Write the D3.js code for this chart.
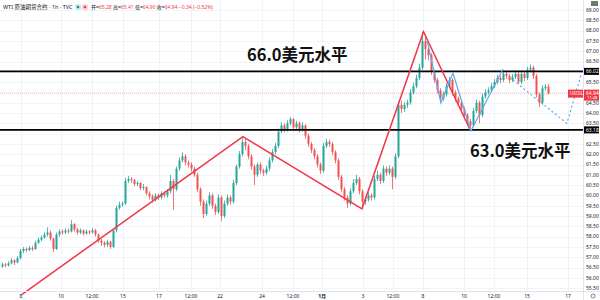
<!DOCTYPE html>
<html>
<head>
<meta charset="utf-8">
<script src="https://cdn.jsdelivr.net/npm/d3@7"></script>
<style>
  html, body { margin: 0; padding: 0; background: #fff; }
  svg { display: block; font-family: "Noto Sans", "Noto Sans CJK SC", sans-serif; }
</style>
</head>
<body>
<svg id="chart" width="600" height="300"></svg>
<script>
// hourly WTI bars (open = previous close)
const firstOpen = 56.55;
const closes = [
  56.65, 56.6, 56.7, 56.85, 56.75, 56.95, 57.3, 57.4, 57.35, 57.45,
  57.4, 57.7, 57.85, 57.95, 58.1, 58.2, 57.9, 57.4, 58.1, 58.25,
  58.2, 58.3, 58.25, 58.6, 58.35, 58.2, 58.3, 58.15, 58.25, 58.2,
  58.3, 58.1, 57.8, 57.7, 57.6, 57.75, 57.5, 58.3, 59.4, 59.55,
  59.6, 60.7, 60.8, 60.75, 60.55, 60.6, 60.35, 60.4, 60.1, 59.95,
  59.8, 60.0, 59.9, 60.1, 60.0, 60.2, 60.7, 60.3, 61.3, 61.7,
  61.9, 61.6, 61.5, 61.3, 61.0, 60.3, 59.7, 59.1, 59.6, 60.0,
  59.5, 59.2, 59.9, 59.0, 59.6, 59.9, 59.7, 60.6, 61.4, 62.0,
  62.6, 62.4, 61.9, 61.4, 61.0, 61.5, 61.2, 61.1, 61.3, 61.7,
  62.1, 62.4, 63.1, 63.4, 63.2, 63.5, 63.7, 63.3, 63.5, 63.2,
  63.4, 62.9, 62.5, 62.2, 61.9, 61.5, 61.2, 62.4, 62.6, 62.5,
  62.1, 61.7, 60.9, 60.3, 59.9, 59.6, 60.2, 60.6, 60.8, 60.2,
  59.7, 59.8, 60.0, 59.9, 60.8, 61.0, 60.7, 61.3, 61.1, 61.3,
  60.9, 61.9, 64.4, 64.2, 64.4, 64.5, 65.0, 65.3, 65.7, 66.2,
  67.5, 67.1, 66.8, 66.0, 65.6, 65.1, 64.7, 64.9, 65.3, 65.6,
  65.0, 64.7, 64.5, 64.2, 63.9, 63.6, 63.4, 64.1, 64.5, 63.9,
  64.8, 65.0, 65.1, 65.3, 65.5, 65.7, 65.6, 65.9, 65.8, 65.6,
  65.75, 65.9, 65.5, 65.9, 65.7, 66.1, 66.2, 65.8, 64.9, 64.5,
  65.2, 65.28, 64.94
];
const highs = [
  56.75, 56.72, 56.8, 56.95, 56.9, 57.05, 57.4, 57.5, 57.48, 57.55,
  57.55, 57.8, 57.95, 58.05, 58.2, 58.45, 58.3, 57.95, 58.2, 58.35,
  58.35, 58.4, 58.38, 58.8, 58.65, 58.42, 58.4, 58.35, 58.35, 58.32,
  58.42, 58.38, 58.15, 57.88, 57.78, 57.85, 57.8, 58.4, 59.5, 59.7,
  59.7, 60.85, 60.95, 60.9, 60.8, 60.7, 60.65, 60.55, 60.45, 60.2,
  60.05, 60.1, 60.1, 60.2, 60.2, 60.3, 61.0, 60.8, 61.4, 61.85,
  62.1, 62.0, 61.7, 61.6, 61.4, 61.1, 60.4, 59.8, 59.75, 60.15,
  60.1, 59.6, 60.05, 60.0, 59.75, 60.05, 60.0, 60.75, 61.5, 62.15,
  62.85, 62.75, 62.5, 62.0, 61.5, 61.6, 61.6, 61.3, 61.45, 61.85,
  62.25, 62.55, 63.25, 63.55, 63.5, 63.65, 63.8, 63.75, 63.62, 63.6,
  63.55, 63.45, 63.0, 62.6, 62.3, 62.0, 61.6, 62.55, 62.75, 62.7,
  62.6, 62.2, 61.8, 61.0, 60.4, 60.0, 60.35, 60.8, 61.0, 60.9,
  60.3, 59.95, 60.15, 60.1, 60.95, 61.2, 61.1, 61.45, 61.4, 61.45,
  61.4, 62.05, 64.55, 64.6, 64.55, 64.65, 65.15, 65.45, 65.85, 66.4,
  67.93, 67.7, 67.25, 66.9, 66.1, 65.7, 65.2, 65.05, 65.45, 65.75,
  65.7, 65.1, 64.8, 64.6, 64.3, 64.0, 63.7, 64.25, 64.65, 64.6,
  64.95, 65.15, 65.25, 65.45, 65.65, 65.85, 65.8, 66.05, 66.0, 65.9,
  65.9, 66.05, 66.0, 66.05, 66.0, 66.25, 66.35, 66.3, 65.9, 65.0,
  65.35, 65.4, 65.41
];
const lows = [
  56.48, 56.52, 56.55, 56.65, 56.62, 56.7, 56.9, 57.2, 57.25, 57.3,
  57.3, 57.35, 57.65, 57.78, 57.9, 58.0, 57.8, 57.25, 57.35, 58.0,
  58.1, 58.12, 58.15, 58.2, 58.25, 58.1, 58.12, 58.05, 58.08, 58.1,
  58.15, 58.0, 57.7, 57.55, 57.48, 57.5, 57.4, 57.45, 58.2, 59.3,
  59.45, 59.55, 60.6, 60.6, 60.45, 60.45, 60.25, 60.25, 60.0, 59.8,
  59.65, 59.7, 59.78, 59.8, 59.9, 59.9, 60.1, 59.3, 60.2, 61.2,
  61.6, 61.45, 61.35, 61.15, 60.9, 60.15, 59.5, 58.9, 59.0, 59.5,
  59.35, 59.05, 59.1, 58.75, 58.9, 59.5, 59.55, 59.6, 60.5, 61.3,
  61.9, 62.2, 61.75, 61.25, 60.5, 60.9, 61.05, 60.95, 61.0, 61.2,
  61.6, 62.0, 62.3, 63.0, 63.05, 63.1, 63.4, 63.15, 63.2, 63.05,
  63.1, 62.75, 62.35, 62.05, 61.75, 61.35, 61.05, 61.1, 62.3, 62.35,
  61.95, 61.55, 60.75, 60.15, 59.75, 59.4, 59.5, 60.1, 60.5, 60.05,
  59.45, 59.55, 59.7, 59.75, 59.8, 60.7, 60.55, 60.6, 60.95, 61.0,
  60.3, 60.8, 61.8, 64.0, 64.05, 64.25, 64.4, 64.9, 65.2, 65.6,
  66.1, 66.6, 66.55, 65.85, 65.45, 64.95, 64.55, 64.6, 64.8, 65.2,
  64.85, 64.55, 64.35, 64.05, 63.75, 63.45, 63.27, 63.3, 64.0, 63.5,
  63.8, 64.7, 64.9, 65.0, 65.2, 65.4, 65.45, 65.5, 65.65, 65.45,
  65.5, 65.65, 65.4, 65.4, 65.55, 65.6, 66.0, 65.65, 64.75, 64.3,
  64.4, 65.1, 64.90
];

// axis labels
const priceTicks = [69, 68.5, 68, 67.5, 67, 66.5, 65.5, 64.5, 64, 63.5, 62.5, 62, 61.5,
  61, 60.5, 60, 59.5, 59, 58.5, 58, 57.5, 57, 56.5, 56, 55.5];
const gridPrices = [69, 68.5, 68, 67.5, 67, 66.5, 66, 65.5, 65, 64.5, 64, 63.5, 63, 62.5,
  62, 61.5, 61, 60.5, 60, 59.5, 59, 58.5, 58, 57.5, 57, 56.5, 56, 55.5];
const timeLabels = ['8', '10', '12:00', '15', '17', '12:00', '22', '24', '12:00', '1月',
  '3', '12:00', '8', '10', '12:00', '15', '17'];
const timeIdx = [6.3, 19.7, 30, 40.3, 52.3, 63, 72.7, 86.7, 97, 106.7, 120.3, 130.3,
  140.3, 154, 164, 175, 188.7];

// drawn levels and swing lines: [bar index, price]
const levelHigh = 66.02;
const levelLow = 63.18;
const lastPrice = 64.94;
const redZigzag = [[6.7, 55.2], [80.3, 62.85], [120, 59.35], [140.5, 67.95], [156, 63.2]];
const blueZigzag = [[141.7, 67.54], [146.3, 64.49], [150.3, 65.94], [156.3, 63.13], [167, 66.14]];
const blueForecast = [[170.3, 65.6], [188.3, 63.5], [193.3, 66.0]];

const width = 600;
const height = 300;
const plotRight = 583;
const plotBottom = 291;

const bars = closes.map((c, i) => ({
  i: i,
  o: i === 0 ? firstOpen : closes[i - 1],
  h: highs[i],
  l: lows[i],
  c: c
}));

const svg = d3.select('#chart');

const x = d3.scaleLinear().domain([0, 182]).range([2, 548]);
const y = d3.scaleLinear().domain([55.5, 69]).range([288.1, 10]);

// grid
svg.append('g')
  .selectAll('line')
  .data(gridPrices)
  .enter()
  .append('line')
  .attr('x1', 0).attr('x2', plotRight)
  .attr('y1', d => Math.round(y(d)) + 0.5)
  .attr('y2', d => Math.round(y(d)) + 0.5)
  .attr('stroke', '#f0f3fa');

svg.append('g')
  .selectAll('line')
  .data(timeIdx)
  .enter()
  .append('line')
  .attr('x1', d => Math.round(x(d)) + 0.5)
  .attr('x2', d => Math.round(x(d)) + 0.5)
  .attr('y1', 0).attr('y2', plotBottom)
  .attr('stroke', '#f0f3fa');

// last price line
svg.append('line')
  .attr('x1', 0).attr('x2', plotRight)
  .attr('y1', y(lastPrice)).attr('y2', y(lastPrice))
  .attr('stroke', '#f7a9a8')
  .attr('stroke-width', 0.8)
  .attr('stroke-dasharray', '1,1');

// candles
const candle = svg.append('g').selectAll('g')
  .data(bars)
  .enter()
  .append('g')
  .attr('fill', d => d.c >= d.o ? '#26a69a' : '#ef5350')
  .attr('stroke', d => d.c >= d.o ? '#26a69a' : '#ef5350');

candle.append('line')
  .attr('x1', d => Math.round(x(d.i)) + 0.5)
  .attr('x2', d => Math.round(x(d.i)) + 0.5)
  .attr('y1', d => y(d.h))
  .attr('y2', d => y(d.l))
  .attr('stroke-width', 0.8);

candle.append('rect')
  .attr('x', d => Math.round(x(d.i)) - 0.5)
  .attr('width', 2)
  .attr('y', d => y(Math.max(d.o, d.c)))
  .attr('height', d => Math.max(0.8, Math.abs(y(d.o) - y(d.c))))
  .attr('stroke', 'none');

// horizontal levels
[levelHigh, levelLow].forEach(p => {
  svg.append('line')
    .attr('x1', 0).attr('x2', plotRight)
    .attr('y1', y(p)).attr('y2', y(p))
    .attr('stroke', '#000')
    .attr('stroke-width', 1.6);
});

// swing lines
const line = d3.line()
  .x(d => x(d[0]))
  .y(d => y(d[1]));

svg.append('path')
  .datum(redZigzag)
  .attr('d', line)
  .attr('fill', 'none')
  .attr('stroke', '#f23645')
  .attr('stroke-width', 1.5);

svg.append('path')
  .datum(blueZigzag)
  .attr('d', line)
  .attr('fill', 'none')
  .attr('stroke', '#5fa8f0')
  .attr('stroke-width', 1.2);

svg.append('path')
  .datum(blueForecast)
  .attr('d', line)
  .attr('fill', 'none')
  .attr('stroke', '#5fa8f0')
  .attr('stroke-width', 1.2)
  .attr('stroke-dasharray', '2,2.5');

// annotations
svg.append('text')
  .attr('x', 247).attr('y', 61)
  .attr('font-family', '"Noto Sans CJK SC", sans-serif')
  .attr('font-size', 16.5)
  .attr('font-weight', 'bold')
  .attr('fill', '#111')
  .text('66.0美元水平');

svg.append('text')
  .attr('x', 470).attr('y', 157)
  .attr('font-family', '"Noto Sans CJK SC", sans-serif')
  .attr('font-size', 16.5)
  .attr('font-weight', 'bold')
  .attr('fill', '#111')
  .text('63.0美元水平');

// price axis
svg.append('rect')
  .attr('x', plotRight).attr('y', 0)
  .attr('width', width - plotRight).attr('height', height)
  .attr('fill', '#fff');
svg.append('line')
  .attr('x1', plotRight + 0.5).attr('x2', plotRight + 0.5)
  .attr('y1', 0).attr('y2', height)
  .attr('stroke', '#e0e3eb');

svg.append('g')
  .selectAll('text')
  .data(priceTicks)
  .enter()
  .append('text')
  .attr('x', 586)
  .attr('y', d => y(d) + 1.8)
  .attr('font-size', 5)
  .attr('fill', '#131722')
  .text(d => d.toFixed(2));

// level tags on the axis
[levelHigh, levelLow].forEach(p => {
  svg.append('rect')
    .attr('x', 584).attr('y', y(p) - 3.5)
    .attr('width', 15).attr('height', 7)
    .attr('fill', '#000');
  svg.append('text')
    .attr('x', 586).attr('y', y(p) + 1.8)
    .attr('font-size', 5)
    .attr('fill', '#fff')
    .text(p.toFixed(2));
});

// last price tag
svg.append('rect')
  .attr('x', 584).attr('y', y(lastPrice) - 4)
  .attr('width', 15).attr('height', 11)
  .attr('fill', '#f23645');
svg.append('text')
  .attr('x', 586).attr('y', y(lastPrice) + 1.5)
  .attr('font-size', 5)
  .attr('fill', '#fff')
  .text(lastPrice.toFixed(2));
svg.append('text')
  .attr('x', 587).attr('y', y(lastPrice) + 5.6)
  .attr('font-size', 4)
  .attr('fill', '#fff')
  .text('11:48');
svg.append('rect')
  .attr('x', 568).attr('y', y(lastPrice) - 4)
  .attr('width', 15).attr('height', 8)
  .attr('fill', '#f23645');
svg.append('text')
  .attr('x', 570).attr('y', y(lastPrice) + 1.5)
  .attr('font-size', 4.5)
  .attr('fill', '#fff')
  .text('USOIL');

// time axis
svg.append('line')
  .attr('x1', 0).attr('x2', width)
  .attr('y1', plotBottom + 0.5).attr('y2', plotBottom + 0.5)
  .attr('stroke', '#e0e3eb');

svg.append('g')
  .selectAll('text')
  .data(timeLabels)
  .enter()
  .append('text')
  .attr('x', (d, i) => x(timeIdx[i]))
  .attr('y', 298)
  .attr('text-anchor', 'middle')
  .attr('font-size', 5)
  .attr('font-weight', d => d === '1月' ? 'bold' : 'normal')
  .attr('fill', '#131722')
  .text(d => d);

svg.append('circle')
  .attr('cx', 593).attr('cy', 296)
  .attr('r', 2)
  .attr('fill', 'none')
  .attr('stroke', '#555')
  .attr('stroke-width', 0.7);

// header
svg.append('text')
  .attr('x', 3).attr('y', 9)
  .attr('font-size', 5.5)
  .attr('fill', '#131722')
  .text('WTI 原油期货合约 · 1h · TVC');

svg.append('rect')
  .attr('x', 75).attr('y', 4).attr('width', 6).attr('height', 6).attr('rx', 1.5)
  .attr('fill', '#cdeee9');
svg.append('circle')
  .attr('cx', 78).attr('cy', 7).attr('r', 1.3).attr('fill', '#089981');
svg.append('rect')
  .attr('x', 82).attr('y', 4).attr('width', 6).attr('height', 6).attr('rx', 1.5)
  .attr('fill', '#fcd4d6');
svg.append('circle')
  .attr('cx', 85).attr('cy', 7).attr('r', 1.3).attr('fill', '#f23645');

const ohlc = svg.append('text')
  .attr('x', 91).attr('y', 9)
  .attr('font-size', 5)
  .attr('fill', '#131722');
[['开=', '65.28'], [' 高=', '65.41'], [' 低=', '64.90'], [' 收=', '64.94']].forEach(p => {
  ohlc.append('tspan').text(p[0]);
  ohlc.append('tspan').attr('fill', '#f23645').text(p[1]);
});
ohlc.append('tspan').attr('fill', '#f23645').text(' −0.34 (−0.52%)');

// top-right thumbnail icon
svg.append('rect')
  .attr('x', 591).attr('y', 1).attr('width', 7).attr('height', 5)
  .attr('fill', '#6b7a6e');
</script>
</body>
</html>
